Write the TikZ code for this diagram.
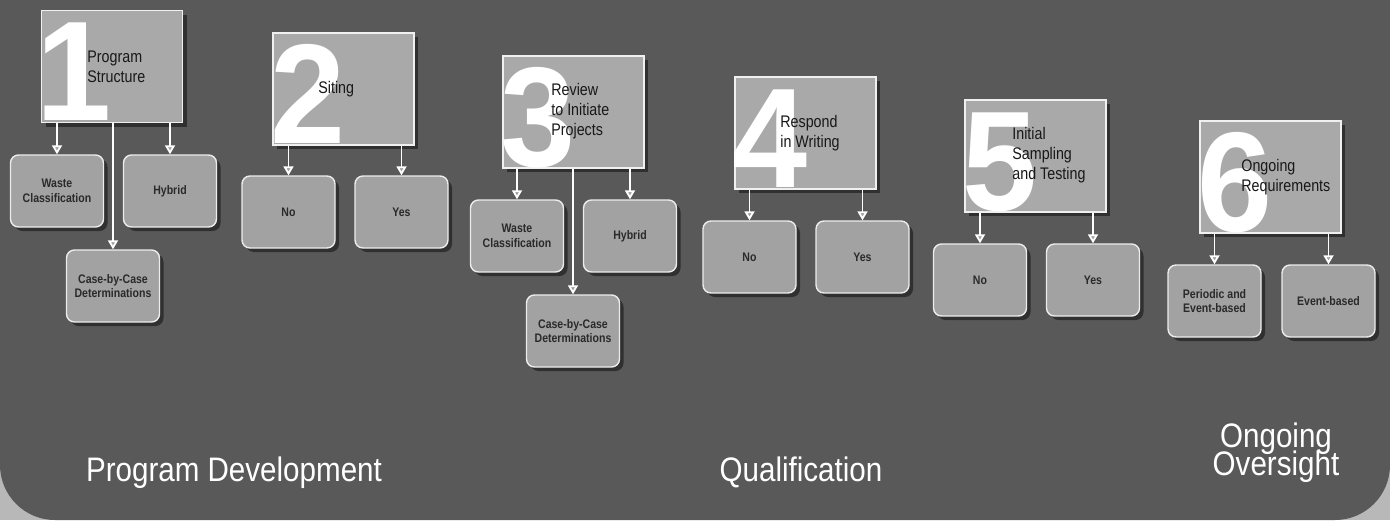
\documentclass[tikz,border=0pt]{standalone}
\usepackage{fontspec}
\setmainfont{Liberation Sans}[FakeStretch=0.85]
\newfontfamily\digitfont{Liberation Sans}[FakeStretch=0.95]
\newfontfamily\titlefont{Liberation Sans}[FakeStretch=0.87]
\usetikzlibrary{arrows.meta,shadows}
\definecolor{bg}{HTML}{595959}
\definecolor{outer}{HTML}{B8B8B8}
\definecolor{mainfill}{HTML}{A9A9A9}
\definecolor{subfill}{HTML}{A2A2A2}
\definecolor{txt}{HTML}{181818}
\definecolor{subtxt}{HTML}{2A2A2A}
\begin{document}
\begin{tikzpicture}[x=0.5pt,y=-0.5pt,
  mainbox/.style={draw=white!88!gray, line width=0.6pt, fill=mainfill, minimum width=70.5pt, minimum height=56pt, inner sep=0pt,
    drop shadow={opacity=0.45, shadow xshift=2pt, shadow yshift=-2pt, fill=black}},
  subbox/.style={draw=white!85!gray, line width=0.7pt, fill=subfill, rounded corners=4pt, minimum width=46.5pt, minimum height=36pt,
    align=center, font=\fontsize{6.2}{7.3}\selectfont\bfseries, text=subtxt, inner sep=1pt,
    drop shadow={opacity=0.45, shadow xshift=2pt, shadow yshift=-2pt, fill=black}},
  digit/.style={font=\digitfont\fontsize{71}{71}\selectfont\bfseries, text=white, inner sep=0pt, anchor=base west},
  maintext/.style={font=\fontsize{8.4}{10}\selectfont, text=txt, align=left, anchor=west, inner sep=0pt},
  conn/.style={draw=white, line width=0.9pt, -{Triangle[width=5pt,length=4.5pt,fill=subfill]}},
  title/.style={font=\titlefont\fontsize{17}{17}\selectfont, text=white, inner sep=0pt, anchor=base}
]
\useasboundingbox (0,0) rectangle (1390,520);
\fill[outer] (0,0) rectangle (1390,520);
\fill[bg, rounded corners=27.5pt] (0,-200) rectangle (1390,520);

% ---------- Group 1 ----------
\node[mainbox] (m1) at (112,66.5) {};
\node[digit] (d1) at (36,120) {1};
\node[maintext] (t1) at (87,66.5) {Program\\Structure};
\node[subbox] (w1) at (57,191) {Waste\\Classification};
\node[subbox] (h1) at (170,191) {Hybrid};
\node[subbox] (c1) at (113,286) {Case-by-Case\\Determinations};
\draw[conn] (m1.south -| w1.north) -- (w1.north);
\draw[conn] (m1.south -| h1.north) -- (h1.north);
\draw[conn] (m1.south -| c1.north) -- (c1.north);

% ---------- Group 2 ----------
\node[mainbox] (m2) at (343.5,89) {};
\node[digit] (d2) at (270,143) {2};
\node[maintext] (t2) at (318,89) {Siting};
\node[subbox] (n2) at (288.5,212) {No};
\node[subbox] (y2) at (401.5,212) {Yes};
\draw[conn] (m2.south -| n2.north) -- (n2.north);
\draw[conn] (m2.south -| y2.north) -- (y2.north);

% ---------- Group 3 ----------
\node[mainbox] (m3) at (573.5,112) {};
\node[digit] (d3) at (500,166) {3};
\node[maintext] (t3) at (551,111) {Review\\to Initiate\\Projects};
\node[subbox] (w3) at (517,236) {Waste\\Classification};
\node[subbox] (h3) at (630,236) {Hybrid};
\node[subbox] (c3) at (573,331) {Case-by-Case\\Determinations};
\draw[conn] (m3.south -| w3.north) -- (w3.north);
\draw[conn] (m3.south -| h3.north) -- (h3.north);
\draw[conn] (m3.south -| c3.north) -- (c3.north);

% ---------- Group 4 ----------
\node[mainbox] (m4) at (805.5,133) {};
\node[digit] (d4) at (732,187) {4};
\node[maintext] (t4) at (780,133) {Respond\\in Writing};
\node[subbox] (n4) at (749.5,257) {No};
\node[subbox] (y4) at (862.5,257) {Yes};
\draw[conn] (m4.south -| n4.north) -- (n4.north);
\draw[conn] (m4.south -| y4.north) -- (y4.north);

% ---------- Group 5 ----------
\node[mainbox] (m5) at (1035.5,156) {};
\node[digit] (d5) at (962,210) {5};
\node[maintext] (t5) at (1012,155) {Initial\\Sampling\\and Testing};
\node[subbox] (n5) at (980,280) {No};
\node[subbox] (y5) at (1093,280) {Yes};
\draw[conn] (m5.south -| n5.north) -- (n5.north);
\draw[conn] (m5.south -| y5.north) -- (y5.north);

% ---------- Group 6 ----------
\node[mainbox] (m6) at (1270.5,177) {};
\node[digit] (d6) at (1197,231) {6};
\node[maintext] (t6) at (1241,177) {Ongoing\\Requirements};
\node[subbox] (p6) at (1214.5,301) {Periodic and\\Event-based};
\node[subbox] (e6) at (1328.5,301) {Event-based};
\draw[conn] (m6.south -| p6.north) -- (p6.north);
\draw[conn] (m6.south -| e6.north) -- (e6.north);

% ---------- Titles ----------
\node[title] (l1) at (234,481) {Program Development};
\node[title] (l2) at (801,481) {Qualification};
\node[title] (l3a) at (1276,447) {Ongoing};
\node[title] (l3b) at (1276,475) {Oversight};
\end{tikzpicture}
\end{document}
